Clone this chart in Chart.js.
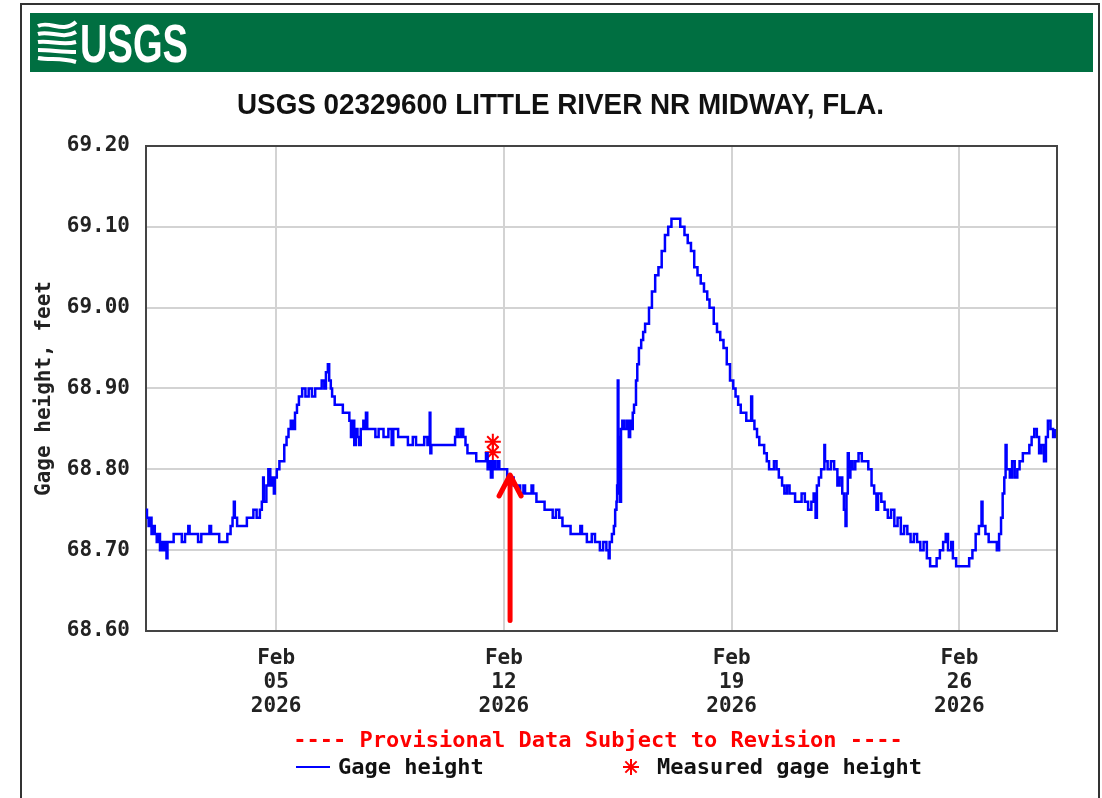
<!DOCTYPE html>
<html>
<head>
<meta charset="utf-8">
<script src="https://cdn.jsdelivr.net/npm/chart.js@4"></script>
<style>
  html, body { margin: 0; padding: 0; background: #fff; overflow: hidden; }
  canvas { display: block; }
</style>
</head>
<body>
<canvas id="gageChart" width="1102" height="798" style="width:1102px;height:798px"></canvas>
<script>
// --- Data (x = days since Feb 01 2026 00:00, y = gage height in feet) ---
const stationTitle = "USGS 02329600 LITTLE RIVER NR MIDWAY, FLA.";
const provisionalNote = "---- Provisional Data Subject to Revision ----";

const gageHeight = [
  [0.00,68.75],[0.03,68.74],[0.08,68.73],[0.12,68.74],[0.17,68.72],[0.22,68.73],[0.27,68.72],[0.33,68.71],
  [0.38,68.72],[0.43,68.70],[0.48,68.71],[0.54,68.70],[0.58,68.71],[0.63,68.69],[0.66,68.71],[0.85,68.72],
  [1.10,68.71],[1.20,68.72],[1.30,68.73],[1.34,68.72],[1.60,68.71],[1.70,68.72],[1.95,68.73],[2.00,68.72],
  [2.25,68.71],[2.50,68.72],[2.60,68.73],[2.66,68.74],[2.70,68.76],[2.73,68.74],[2.80,68.73],[3.10,68.74],
  [3.30,68.75],[3.40,68.74],[3.50,68.75],[3.56,68.76],[3.60,68.79],[3.62,68.76],[3.70,68.78],[3.76,68.80],
  [3.82,68.78],[3.88,68.79],[3.93,68.77],[3.96,68.79],[4.02,68.80],[4.10,68.81],[4.25,68.83],[4.32,68.84],
  [4.38,68.85],[4.45,68.86],[4.52,68.85],[4.58,68.87],[4.64,68.88],[4.70,68.89],[4.80,68.90],[4.90,68.89],
  [5.00,68.90],[5.10,68.89],[5.20,68.90],[5.40,68.91],[5.48,68.90],[5.53,68.92],[5.59,68.93],[5.63,68.91],
  [5.68,68.90],[5.72,68.89],[5.80,68.88],[6.05,68.87],[6.25,68.86],[6.30,68.84],[6.35,68.86],[6.40,68.83],
  [6.45,68.85],[6.50,68.84],[6.55,68.83],[6.60,68.85],[6.68,68.86],[6.72,68.85],[6.76,68.87],[6.80,68.85],
  [7.05,68.84],[7.15,68.85],[7.30,68.84],[7.45,68.85],[7.55,68.83],[7.60,68.85],[7.75,68.84],[8.05,68.83],
  [8.20,68.84],[8.30,68.83],[8.55,68.84],[8.65,68.83],[8.72,68.87],[8.74,68.82],[8.77,68.83],[9.50,68.84],
  [9.55,68.85],[9.60,68.84],[9.68,68.85],[9.75,68.84],[9.82,68.83],[9.88,68.82],[10.15,68.81],[10.45,68.82],
  [10.50,68.80],[10.55,68.81],[10.60,68.79],[10.65,68.81],[10.72,68.80],[10.80,68.81],[10.86,68.80],[11.10,68.79],
  [11.30,68.78],[11.50,68.77],[11.60,68.78],[11.65,68.77],[11.85,68.78],[11.90,68.77],[12.00,68.76],[12.25,68.75],
  [12.50,68.74],[12.60,68.75],[12.70,68.74],[12.80,68.73],[13.05,68.72],[13.35,68.73],[13.40,68.72],[13.55,68.71],
  [13.70,68.72],[13.80,68.71],[13.95,68.70],[14.05,68.71],[14.15,68.70],[14.22,68.69],[14.25,68.71],[14.32,68.72],
  [14.38,68.73],[14.42,68.75],[14.46,68.76],[14.48,68.78],[14.50,68.91],[14.52,68.77],[14.55,68.84],[14.57,68.76],
  [14.60,68.85],[14.64,68.86],[14.70,68.85],[14.78,68.86],[14.84,68.84],[14.88,68.86],[14.92,68.85],[14.96,68.87],
  [15.00,68.88],[15.06,68.91],[15.10,68.93],[15.15,68.95],[15.22,68.96],[15.28,68.97],[15.34,68.98],[15.46,69.00],
  [15.55,69.02],[15.65,69.04],[15.75,69.05],[15.85,69.07],[15.95,69.09],[16.05,69.10],[16.15,69.11],[16.42,69.10],
  [16.55,69.09],[16.65,69.08],[16.75,69.07],[16.85,69.05],[16.95,69.04],[17.05,69.03],[17.15,69.02],[17.25,69.01],
  [17.32,69.00],[17.45,68.98],[17.55,68.97],[17.65,68.96],[17.75,68.95],[17.85,68.93],[17.95,68.91],[18.05,68.90],
  [18.12,68.89],[18.20,68.88],[18.28,68.87],[18.45,68.86],[18.60,68.89],[18.63,68.86],[18.70,68.85],[18.78,68.84],
  [18.85,68.83],[19.00,68.82],[19.08,68.81],[19.15,68.80],[19.30,68.81],[19.38,68.80],[19.45,68.79],[19.55,68.78],
  [19.62,68.77],[19.70,68.78],[19.78,68.77],[19.95,68.76],[20.15,68.77],[20.25,68.76],[20.35,68.75],[20.45,68.76],
  [20.52,68.77],[20.58,68.74],[20.62,68.78],[20.68,68.79],[20.75,68.80],[20.85,68.83],[20.87,68.81],[20.95,68.80],
  [21.05,68.81],[21.15,68.80],[21.25,68.78],[21.32,68.79],[21.40,68.77],[21.45,68.75],[21.50,68.73],[21.53,68.77],
  [21.57,68.82],[21.60,68.79],[21.65,68.81],[21.72,68.80],[21.80,68.81],[21.90,68.82],[22.00,68.81],[22.20,68.80],
  [22.30,68.78],[22.38,68.77],[22.45,68.75],[22.50,68.77],[22.60,68.76],[22.70,68.75],[22.80,68.74],[22.90,68.75],
  [23.00,68.73],[23.10,68.74],[23.20,68.72],[23.30,68.73],[23.40,68.72],[23.50,68.71],[23.60,68.72],[23.70,68.71],
  [23.80,68.70],[23.90,68.71],[24.00,68.69],[24.10,68.68],[24.30,68.69],[24.40,68.70],[24.50,68.71],[24.58,68.72],
  [24.65,68.70],[24.75,68.71],[24.80,68.69],[24.90,68.68],[25.30,68.69],[25.40,68.70],[25.50,68.72],[25.60,68.73],
  [25.68,68.76],[25.71,68.73],[25.80,68.72],[25.90,68.71],[26.15,68.70],[26.22,68.72],[26.28,68.74],[26.33,68.77],
  [26.38,68.79],[26.42,68.83],[26.45,68.80],[26.55,68.79],[26.62,68.81],[26.70,68.79],[26.78,68.80],[26.85,68.81],
  [26.95,68.82],[27.15,68.83],[27.22,68.84],[27.30,68.85],[27.38,68.84],[27.45,68.82],[27.52,68.83],[27.60,68.81],
  [27.66,68.84],[27.72,68.86],[27.80,68.85],[27.88,68.84],[27.93,68.85]
];

const measuredDays = [10.66, 10.66];
const measuredFeet = [68.834, 68.821];

const xTicks = [4, 11, 18, 25];
const xTickLabels = [["Feb", "05", "2026"], ["Feb", "12", "2026"], ["Feb", "19", "2026"], ["Feb", "26", "2026"]];
const yTicks = [68.6, 68.7, 68.8, 68.9, 69.0, 69.1, 69.2];

// red arrow that was drawn onto the graph
const arrowDay = 11.19;
const arrowBaseFt = 68.613;
const arrowTipFt = 68.793;

// --- Styles ---
const MONO = '"DejaVu Sans Mono", "Liberation Mono", monospace';
const SANS = '"Liberation Sans", Arial, sans-serif';
const USGS_GREEN = '#006f41';

function drawFittedText(ctx, text, font, x, y, width, color) {
  ctx.save();
  ctx.font = font;
  ctx.fillStyle = color;
  ctx.textBaseline = 'alphabetic';
  ctx.textAlign = 'left';
  const w = ctx.measureText(text).width;
  ctx.translate(x, y);
  ctx.scale(width / w, 1);
  ctx.fillText(text, 0, 0);
  ctx.restore();
}

const usgsPage = {
  id: 'usgsPage',
  beforeDraw(chart) {
    const ctx = chart.ctx;
    ctx.save();
    ctx.fillStyle = '#fff';
    ctx.fillRect(0, 0, chart.width, chart.height);
    // outer frame
    ctx.strokeStyle = '#333';
    ctx.lineWidth = 2;
    ctx.strokeRect(21, 4, 1078, 820);
    // green banner
    ctx.fillStyle = USGS_GREEN;
    ctx.fillRect(30, 13, 1063, 59);
    // logo icon: white waves
    ctx.strokeStyle = '#fff';
    ctx.lineWidth = 4;
    for (let i = 0; i < 5; i++) {
      const y0 = 26 + i * 8;
      ctx.beginPath();
      ctx.moveTo(38, y0);
      ctx.bezierCurveTo(50, y0 - 6 + i * 2, 62, y0 + 8 - i * 2, 76, y0 + (i - 2) * 2);
      ctx.stroke();
    }
    ctx.restore();
    drawFittedText(ctx, 'USGS', 'bold 54px ' + SANS, 80, 62, 108, '#fff');
    drawFittedText(ctx, stationTitle, 'bold 29px ' + SANS, 237, 114, 647, '#111');
  },
  beforeDatasetsDraw(chart) {
    const {ctx, chartArea: a} = chart;
    ctx.save();
    ctx.strokeStyle = '#444';
    ctx.lineWidth = 2;
    ctx.strokeRect(a.left, a.top, a.right - a.left, a.bottom - a.top);
    ctx.restore();
  },
  afterDraw(chart) {
    const ctx = chart.ctx;
    const xs = chart.scales.x, ys = chart.scales.y;
    // arrow
    const ax = xs.getPixelForValue(arrowDay);
    const tip = ys.getPixelForValue(arrowTipFt);
    const base = ys.getPixelForValue(arrowBaseFt);
    ctx.save();
    ctx.strokeStyle = '#ff0000';
    ctx.lineWidth = 5;
    ctx.lineCap = 'round';
    ctx.lineJoin = 'round';
    ctx.beginPath();
    ctx.moveTo(ax, base);
    ctx.lineTo(ax, tip + 2);
    ctx.moveTo(ax - 11, tip + 21);
    ctx.lineTo(ax, tip);
    ctx.lineTo(ax + 11, tip + 21);
    ctx.stroke();

    // legend block
    const line = chart.data.datasets[0];
    const meas = chart.data.datasets[1];
    ctx.font = 'bold 22px ' + MONO;
    ctx.textBaseline = 'middle';
    ctx.textAlign = 'center';
    ctx.fillStyle = '#ff0000';
    ctx.fillText(provisionalNote, 598, 741);

    ctx.strokeStyle = line.borderColor;
    ctx.lineWidth = 2;
    ctx.lineCap = 'butt';
    ctx.beginPath();
    ctx.moveTo(296, 767);
    ctx.lineTo(330, 767);
    ctx.stroke();
    ctx.textAlign = 'left';
    ctx.fillStyle = '#111';
    ctx.fillText(line.label, 338, 768);
    ctx.fillText(meas.label, 657, 768);
    ctx.strokeStyle = meas.borderColor;
    ctx.fillStyle = meas.backgroundColor;
    ctx.lineWidth = 2;
    Chart.helpers.drawPoint(ctx, {pointStyle: 'star', radius: 8, borderWidth: 2}, 631, 767);
    ctx.restore();
  }
};

const tickFont = {family: MONO, size: 21, weight: 'bold', lineHeight: 1.15};

const chart = new Chart(document.getElementById('gageChart').getContext('2d'), {
  type: 'line',
  data: {
    datasets: [
      {
        label: 'Gage height',
        data: gageHeight.map(p => ({x: p[0], y: p[1]})),
        borderColor: '#0000ff',
        borderWidth: 2.5,
        pointRadius: 0,
        stepped: true,
        fill: false
      },
      {
        label: 'Measured gage height',
        data: measuredDays.map((d, i) => ({x: d, y: measuredFeet[i]})),
        showLine: false,
        pointStyle: 'star',
        pointRadius: 8,
        borderColor: '#ff0000',
        backgroundColor: '#ff0000',
        pointBorderWidth: 2
      }
    ]
  },
  options: {
    responsive: false,
    animation: false,
    devicePixelRatio: 1,
    layout: {padding: {top: 146, left: 0, right: 45, bottom: 67}},
    plugins: {legend: {display: false}, title: {display: false}, tooltip: {enabled: false}},
    scales: {
      x: {
        type: 'linear',
        min: 0,
        max: 28,
        afterBuildTicks: s => { s.ticks = xTicks.map(v => ({value: v})); },
        afterFit: s => { s.height = 100; },
        grid: {color: '#d3d3d3', lineWidth: 2, drawTicks: false},
        border: {display: false},
        ticks: {
          autoSkip: false,
          maxRotation: 0,
          padding: 15,
          color: '#222',
          font: tickFont,
          callback: (v, i) => xTickLabels[i]
        }
      },
      y: {
        min: 68.6,
        max: 69.2,
        afterBuildTicks: s => { s.ticks = yTicks.map(v => ({value: v})); },
        afterFit: s => { s.width = 146; },
        grid: {color: '#d3d3d3', lineWidth: 2, drawTicks: false},
        border: {display: false},
        ticks: {
          padding: 16,
          color: '#222',
          font: tickFont,
          callback: v => v.toFixed(2)
        },
        title: {
          display: true,
          text: 'Gage height, feet',
          color: '#222',
          font: {family: MONO, size: 21, weight: 'bold'},
          padding: {top: 32, bottom: 0}
        }
      }
    }
  },
  plugins: [usgsPage]
});
</script>
</body>
</html>
